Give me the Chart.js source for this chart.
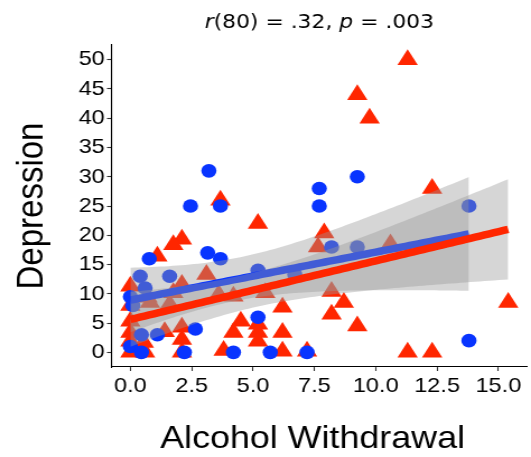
<!DOCTYPE html>
<html>
<head>
<meta charset="utf-8">
<script src="https://cdn.jsdelivr.net/npm/chart.js@4/dist/chart.umd.min.js"></script>
<style>
  html, body { margin: 0; padding: 0; background: #fff; overflow: hidden; }
  #wrap { position: absolute; left: 0; top: 0; width: 474px; height: 457px;
          transform: scaleX(1.1203); transform-origin: 0 0; }
</style>
</head>
<body>
<div id="wrap"><canvas id="c"></canvas></div>
<script>
// Group 1 (blue circles)
const blueX = [3.2, 2.45, 3.67, 7.7, 7.7, 9.25, 13.8, 3.15, 3.67, 0.77,
               0.4, 1.6, 0.6, 0, 0.1, 5.2, 6.7, 8.2, 9.25, 5.2,
               2.65, 0.45, 1.1, 0, 0.45, 2.2, 4.2, 5.7, 7.2, 13.8];
const blueY = [31, 25, 25, 28, 25, 30, 25, 17, 16, 16,
               13, 13, 11, 9.5, 8, 14, 13.3, 18, 18, 6,
               4, 3, 3, 1, 0, 0, 0, 0, 0, 2];

// Group 2 (red triangles)
const redX = [11.3, 9.25, 9.75, 12.3, 3.67, 5.2, 2.1, 1.75, 1.1, 7.9,
              7.65, 0, 3.1, 2.1, 1.75, 0.7, 3.6, 4.2, 5.5, 1.6,
              6.2, 0, 0, 0, 0, 0, 0.55, 0.6, 1.4, 2.1,
              2.1, 2.1, 3.8, 4.2, 4.5, 5.2, 5.2, 5.2, 6.2, 6.2,
              7.2, 8.2, 8.7, 9.25, 8.2, 11.3, 12.3, 15.4, 0.8, 10.6, 1.6];
const redY = [50, 44, 40, 28, 26, 22, 19.3, 18.4, 16.4, 20.4,
              18, 11.3, 13.3, 11.6, 10.2, 9.4, 9.9, 9.6, 10.2, 7.9,
              7.7, 8, 5.3, 3.4, 1.9, 0, 1.7, 0, 3.5, 4.3,
              2.2, 0, 0.3, 3.4, 5.3, 4.8, 3.4, 1.9, 3.4, 0.2,
              0.2, 6.5, 8.5, 4.5, 10.4, 0, 0, 8.5, 8.5, 18.5, 8.2];

const xTicks = [0, 2.5, 5, 7.5, 10, 12.5, 15];
const xTickLabels = ['0.0', '2.5', '5.0', '7.5', '10.0', '12.5', '15.0'];
const yTicks = [0, 5, 10, 15, 20, 25, 30, 35, 40, 45, 50];
const yTickLabels = ['0', '5', '10', '15', '20', '25', '30', '35', '40', '45', '50'];

const titleParts = [
  { text: 'r', italic: true },
  { text: '(80) = .32, ', italic: false },
  { text: 'p', italic: true },
  { text: ' = .003', italic: false }
];
const xTitle = 'Alcohol Withdrawal';
const yTitle = 'Depression';

const BLUE = 'rgb(8,52,255)';
const RED = 'rgb(255,38,0)';
const BAND = 'rgba(153,153,153,0.4)';

function toPoints(xs, ys) { return xs.map((x, i) => ({ x: x, y: ys[i] })); }

// 97.5% quantile of Student's t (Cornish-Fisher expansion)
function tQuantile975(df) {
  const z = 1.959964;
  const z3 = z * z * z, z5 = z3 * z * z, z7 = z5 * z * z;
  const g1 = (z3 + z) / 4;
  const g2 = (5 * z5 + 16 * z3 + 3 * z) / 96;
  const g3 = (3 * z7 + 19 * z5 + 17 * z3 - 15 * z) / 384;
  return z + g1 / df + g2 / (df * df) + g3 / (df * df * df);
}

// Least-squares line with 95% confidence band over the group's x range
function linearFit(xs, ys, steps) {
  const n = xs.length;
  const mx = xs.reduce((a, b) => a + b, 0) / n;
  const my = ys.reduce((a, b) => a + b, 0) / n;
  let sxx = 0, sxy = 0;
  for (let i = 0; i < n; i++) { sxx += (xs[i] - mx) ** 2; sxy += (xs[i] - mx) * (ys[i] - my); }
  const b = sxy / sxx, a = my - b * mx;
  let sse = 0;
  for (let i = 0; i < n; i++) sse += (ys[i] - a - b * xs[i]) ** 2;
  const s = Math.sqrt(sse / (n - 2));
  const t = tQuantile975(n - 2);
  const lo = Math.min(...xs), hi = Math.max(...xs);
  const line = [], upper = [], lower = [];
  for (let k = 0; k <= steps; k++) {
    const x = lo + (hi - lo) * k / steps;
    const y = a + b * x;
    const se = s * Math.sqrt(1 / n + (x - mx) ** 2 / sxx);
    line.push({ x: x, y: y });
    upper.push({ x: x, y: y + t * se });
    lower.push({ x: x, y: y - t * se });
  }
  return { line, upper, lower };
}

const blueFit = linearFit(blueX, blueY, 80);
const redFit = linearFit(redX, redY, 80);

const pointsDs = (data, color, style, radius, order) => ({
  data: data, showLine: false, order: order,
  pointStyle: style, pointRadius: radius, pointHoverRadius: radius,
  pointBackgroundColor: color, pointBorderWidth: 0, pointHoverBorderWidth: 0,
  backgroundColor: color, borderColor: color
});
const bandDs = (data, fillTarget, order) => ({
  data: data, order: order, pointRadius: 0, borderWidth: 0, borderColor: 'rgba(0,0,0,0)',
  backgroundColor: BAND, fill: fillTarget === null ? false : { target: fillTarget }, tension: 0
});
const lineDs = (data, color, order) => ({
  data: data, order: order, pointRadius: 0, borderWidth: 7.5, borderColor: color,
  borderCapStyle: 'butt', fill: false, tension: 0
});

const titlesPlugin = {
  id: 'titles',
  afterDraw(chart) {
    const ctx = chart.ctx;
    const area = chart.chartArea;
    const cx = (area.left + area.right) / 2;
    ctx.save();
    ctx.fillStyle = '#000';
    ctx.textBaseline = 'alphabetic';
    // title with italic statistic symbols
    const fontFor = p => (p.italic ? 'italic ' : '') + '19.5px "DejaVu Sans"';
    let total = 0;
    titleParts.forEach(p => { ctx.font = fontFor(p); total += ctx.measureText(p.text).width; });
    let x = cx - total / 2;
    ctx.textAlign = 'left';
    titleParts.forEach(p => { ctx.font = fontFor(p); ctx.fillText(p.text, x, 28); x += ctx.measureText(p.text).width; });
    // x axis title
    ctx.textAlign = 'center';
    ctx.font = '32px "Liberation Sans"';
    ctx.fillText(xTitle, 279, 448);
    // y axis title
    ctx.translate(37.5, 206);
    ctx.rotate(-Math.PI / 2);
    ctx.font = '33px "Liberation Sans"';
    ctx.fillText(yTitle, 0, 0);
    ctx.restore();
  }
};

const tickFont = { family: 'Liberation Sans', size: 21 };

new Chart(document.getElementById('c'), {
  type: 'line',
  data: {
    datasets: [
      pointsDs(toPoints(blueX, blueY), BLUE, 'circle', 6.8, 4),
      pointsDs(toPoints(redX, redY), RED, 'triangle', 10.5, 5),
      bandDs(blueFit.upper, 3, 3),
      bandDs(blueFit.lower, null, 3),
      lineDs(blueFit.line, BLUE, 2),
      bandDs(redFit.upper, 6, 1),
      bandDs(redFit.lower, null, 1),
      lineDs(redFit.line, RED, 0)
    ]
  },
  options: {
    responsive: true,
    maintainAspectRatio: false,
    animation: false,
    events: [],
    layout: { autoPadding: false, padding: { top: 45, right: 3.5, left: 0, bottom: 0 } },
    plugins: { legend: { display: false }, tooltip: { enabled: false }, title: { display: false } },
    scales: {
      x: {
        type: 'linear', min: -0.77, max: 16.17,
        afterBuildTicks: s => { s.ticks = xTicks.map(v => ({ value: v })); },
        afterFit: s => { s.height = 90; },
        ticks: { autoSkip: false, maxRotation: 0, padding: 3, font: tickFont, color: '#000',
                 callback: (v, i) => xTickLabels[i] },
        grid: { drawOnChartArea: false, drawTicks: true, tickLength: 4, tickColor: '#333', tickWidth: 1.1 },
        border: { display: true, color: '#000', width: 1.1 }
      },
      y: {
        type: 'linear', min: -2.5, max: 52.5,
        afterBuildTicks: s => { s.ticks = yTicks.map(v => ({ value: v })); },
        afterFit: s => { s.width = 99.5; },
        ticks: { autoSkip: false, padding: 2, font: tickFont, color: '#000',
                 callback: (v, i) => yTickLabels[i] },
        grid: { drawOnChartArea: false, drawTicks: true, tickLength: 4, tickColor: '#333', tickWidth: 1.1 },
        border: { display: true, color: '#000', width: 1.1 }
      }
    }
  },
  plugins: [titlesPlugin]
});
</script>
</body>
</html>
